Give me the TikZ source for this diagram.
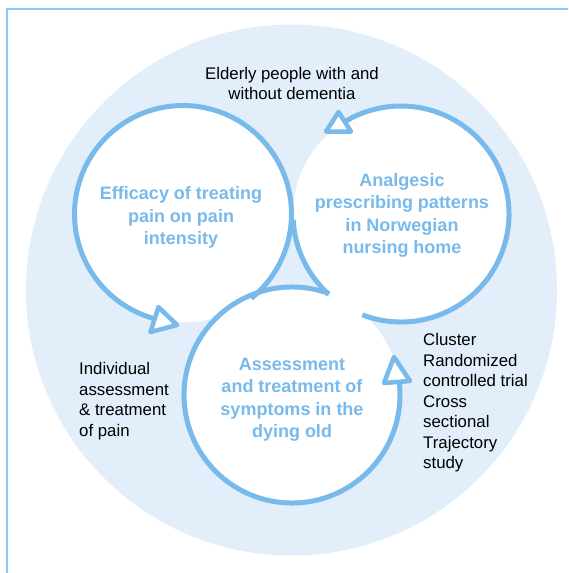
\documentclass[tikz,border=0pt]{standalone}
\usepackage{fontspec}
\setmainfont{Liberation Sans}
\definecolor{ringblue}{RGB}{120,186,235}
\definecolor{bgblue}{RGB}{226,239,250}
\definecolor{frameblue}{RGB}{140,200,243}
\begin{document}
\begin{tikzpicture}[x=1pt,y=-1pt,
  ring/.style={draw=ringblue, line width=5pt},
  tiptri/.style={draw=ringblue, fill=white, line width=4.5pt, line join=round},
  blk/.style={font=\fontsize{16.8}{20.5}\selectfont, text=black, inner sep=0pt},
  title/.style={font=\fontsize{18}{22.5}\selectfont\bfseries, text=ringblue, align=center, inner sep=0pt}]
\useasboundingbox (0,0) rectangle (568,573);
\clip (0,0) rectangle (568,573);
\fill[white] (0,0) rectangle (568,573);
\draw[frameblue, line width=2pt] (6.5,8.5) rectangle (620,620);
\coordinate (c0) at (291.5,290);
\fill[bgblue] (c0) circle[radius=265.5];
\coordinate (c1) at (183,214);
\coordinate (c2) at (401,214);
\coordinate (c3) at (292,395);
\fill[white] (c1) circle[radius=108.5];
\fill[white] (c2) circle[radius=108];
\fill[white] (c3) circle[radius=108];
% rings
\draw[ring] (c1) ++(51:108.5) arc[start angle=51, end angle=-255, radius=108.5];
\draw[ring] (c2) ++(111:108) arc[start angle=111, end angle=-122, radius=108];
\draw[ring] (c2) ++(-183:108) arc[start angle=-183, end angle=-228, radius=108];
\draw[ring] (c3) ++(-70:108) arc[start angle=-70, end angle=-367, radius=108];
% arrow heads
\draw[tiptri] (158.5,307) -- (177,325) -- (150.5,332) -- cycle;
\draw[tiptri] (338.5,112) -- (351,131.5) -- (326,131.5) -- cycle;
\draw[tiptri] (394,357) -- (410,381) -- (384,383) -- cycle;
% texts
\node[blk, align=center] (elderly) at (292,83.5) {Elderly people with and\\without dementia};
\node[title] (eff) at (181,217.5) {Efficacy of treating\\pain on pain\\intensity};
\node[title] (ana) at (402,215.5) {Analgesic\\prescribing patterns\\in Norwegian\\nursing home};
\node[title] (ass) at (292,399.5) {Assessment\\and treatment of\\symptoms in the\\dying old};
\node[blk, align=left, anchor=west] (ind) at (79,401) {Individual\\assessment\\\& treatment\\of pain};
\node[blk, align=left, anchor=west] (clu) at (423,403) {Cluster\\Randomized\\controlled trial\\Cross\\sectional\\Trajectory\\study};
\end{tikzpicture}
\end{document}
